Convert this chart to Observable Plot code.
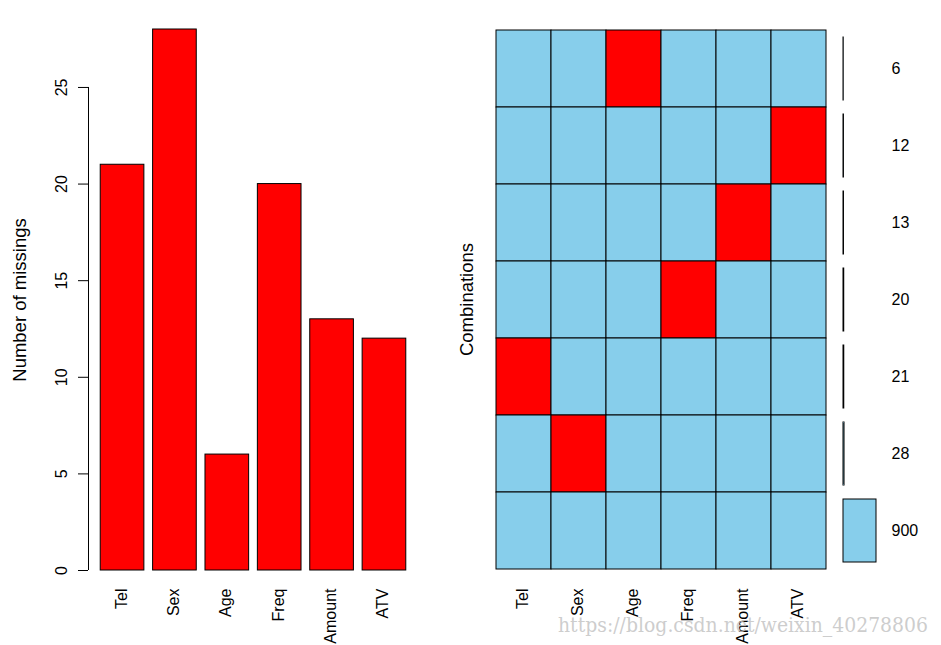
<!DOCTYPE html>
<html><head><meta charset="utf-8">
<script src="https://cdn.jsdelivr.net/npm/d3@7"></script>
<script src="https://cdn.jsdelivr.net/npm/@observablehq/plot@0.6"></script>
<style>
body{margin:0;background:#fff;}
#wrap{position:relative;width:941px;height:645px;overflow:hidden;font-family:"Liberation Sans",Arial,sans-serif;}
#wrap > div{position:absolute;top:0;}
#left{left:0;} #grid{left:440px;} #freq{left:830px;} #wm{left:0;pointer-events:none;}
svg{overflow:visible;}
</style></head><body>
<div id="wrap"><div id="left"></div><div id="grid"></div><div id="freq"></div><div id="wm"></div></div>
<script>
// ---- data ----
const variables = ["Tel", "Sex", "Age", "Freq", "Amount", "ATV"];
const missingCounts = [21, 28, 6, 20, 13, 12];
const yTicks = [0, 5, 10, 15, 20, 25];
const comboCounts = [6, 12, 13, 20, 21, 28, 900];
const comboMissingVar = ["Age", "ATV", "Amount", "Freq", "Tel", "Sex", null];
const yLabelLeft = "Number of missings";
const yLabelRight = "Combinations";
const watermark = "https://blog.csdn.net/weixin_40278806";

const RED = "#FF0000", SKY = "#87CEEB";
const FONT = "Liberation Sans, Arial, sans-serif";

// ---- left: barplot of missings (R barplot positions: width 1, space 0.2) ----
const bars = variables.map((v, i) => ({v, count: missingCounts[i], pos: 0.7 + 1.2 * i}));
const xDomain = [-0.08, 7.48];

const left = Plot.plot({
  width: 460, height: 645,
  marginLeft: 88, marginRight: 42, marginTop: 29, marginBottom: 75,
  style: {fontFamily: FONT, fontSize: "16px", background: "white", color: "black"},
  x: {domain: xDomain, axis: null},
  y: {domain: [0, 28], axis: null},
  marks: [
    Plot.rectY(bars, {x1: d => d.pos - 0.5, x2: d => d.pos + 0.5, y1: 0, y2: "count", fill: RED, stroke: "black", strokeWidth: 1}),
    Plot.ruleX([xDomain[0]], {y1: yTicks[0], y2: yTicks[yTicks.length - 1], stroke: "black"}),
    Plot.axisY({ticks: yTicks, tickSize: 10, tickFormat: () => "", label: null, stroke: "black"}),
    Plot.text(yTicks, {y: d => d, frameAnchor: "left", dx: -27, rotate: -90, textAnchor: "middle", text: d => String(d), fontSize: 16, fill: "black"}),
    Plot.text([yLabelLeft], {frameAnchor: "left", dx: -68, rotate: -90, textAnchor: "middle", text: d => d, fontSize: 18.5, fill: "black"}),
    Plot.text(bars, {x: "pos", frameAnchor: "bottom", dx: 4, dy: 18, rotate: -90, textAnchor: "end", text: "v", fontSize: 16, fill: "black"})
  ]
});
document.getElementById("left").append(left);

// ---- right: combination grid ----
const cells = [];
comboCounts.forEach((c, r) => variables.forEach(v => cells.push({row: r, v, missing: comboMissingVar[r] === v})));
const rows = comboCounts.map((c, r) => r);

const grid = Plot.plot({
  width: 400, height: 645,
  marginLeft: 55, marginRight: 14, marginTop: 28, marginBottom: 75,
  style: {fontFamily: FONT, fontSize: "16px", background: "transparent", color: "black"},
  x: {domain: variables, padding: 0, axis: null},
  y: {domain: rows, padding: 0, axis: null},
  color: {type: "identity"},
  marks: [
    Plot.cell(cells, {x: "v", y: "row", fill: d => d.missing ? RED : SKY, stroke: "black", strokeWidth: 1, inset: 0}),
    Plot.text([yLabelRight], {frameAnchor: "left", dx: -28, rotate: -90, textAnchor: "middle", text: d => d, fontSize: 18.5, fill: "black"}),
    Plot.text(variables, {x: d => d, frameAnchor: "bottom", dx: 4, dy: 18, rotate: -90, textAnchor: "end", text: d => d, fontSize: 16, fill: "black"})
  ]
});
document.getElementById("grid").append(grid);

// ---- right: combination frequencies ----
const freq = comboCounts.map((c, r) => ({row: r, count: c}));
const freqPlot = Plot.plot({
  width: 111, height: 645,
  marginLeft: 13, marginRight: 65, marginTop: 28, marginBottom: 75,
  style: {fontFamily: FONT, fontSize: "16px", background: "transparent", color: "black"},
  x: {domain: [0, d3.max(comboCounts)], axis: null},
  y: {domain: rows, padding: 0, axis: null},
  marks: [
    Plot.rectX(freq, {x1: 0, x2: "count", y: "row", insetTop: 7, insetBottom: 7, fill: SKY, stroke: "black", strokeWidth: 1}),
    Plot.text(freq, {y: "row", frameAnchor: "right", dx: 15, textAnchor: "start", text: d => String(d.count), fontSize: 16, fill: "black"})
  ]
});
document.getElementById("freq").append(freqPlot);

// ---- watermark ----
const ns = "http://www.w3.org/2000/svg";
const wsvg = document.createElementNS(ns, "svg");
wsvg.setAttribute("width", 941); wsvg.setAttribute("height", 645);
const wt = document.createElementNS(ns, "text");
wt.setAttribute("x", 558); wt.setAttribute("y", 632);
wt.setAttribute("textLength", 370); wt.setAttribute("lengthAdjust", "spacingAndGlyphs");
wt.setAttribute("font-family", "DejaVu Serif, Liberation Serif, serif");
wt.setAttribute("font-size", 20);
wt.setAttribute("fill", "#c4c4c4"); wt.setAttribute("fill-opacity", 0.85);
wt.textContent = watermark;
wsvg.append(wt);
document.getElementById("wm").append(wsvg);
</script>
</body></html>
